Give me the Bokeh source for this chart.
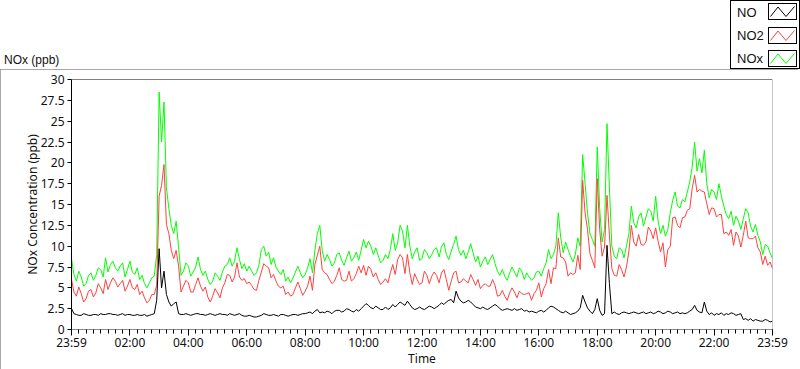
from bokeh.plotting import figure
from bokeh.layouts import column
from bokeh.models import Range1d, FixedTicker, Span, Div
from bokeh.embed import file_html
from bokeh.resources import INLINE

# ---------------- data: readings every 5 minutes, hours since 23:59 ----------------
# "_on" = values on the 10-minute marks, "_off" = the readings 5 minutes later
minutes = list(range(0, 24 * 60 + 1, 5))
hours = [m / 60 for m in minutes]

nox_on = [8.5, 5.8, 6.3, 5.5, 6.8, 6.5, 7.2, 8.6, 7.8, 7.4,
          7.6, 6.3, 8.2, 6.6, 6.0, 5.5, 5.6, 6.4, 28.5, 27.3,
          14.5, 11.5, 9.8, 7.0, 7.6, 6.9, 8.7, 6.5, 6.0, 5.8,
          6.4, 6.9, 7.8, 7.6, 9.8, 7.3, 7.0, 7.0, 6.8, 9.6,
          8.8, 7.8, 7.5, 6.6, 5.8, 5.6, 6.9, 6.8, 6.6, 8.5,
          9.5, 12.5, 8.2, 8.4, 8.0, 9.2, 7.7, 9.4, 8.6, 8.3,
          10.8, 10.6, 9.0, 8.9, 8.3, 8.5, 11.5, 10.4, 11.8, 12.5,
          8.5, 9.8, 8.5, 9.2, 9.0, 9.8, 9.9, 9.0, 9.4, 11.2,
          8.9, 8.5, 10.3, 8.1, 7.5, 8.7, 8.4, 7.9, 6.5, 6.4,
          6.8, 6.9, 7.4, 6.0, 6.3, 6.2, 7.0, 7.3, 9.6, 9.0,
          14.0, 9.2, 9.6, 8.1, 11.0, 21.0, 14.0, 10.8, 21.9, 10.5,
          24.7, 10.0, 8.5, 9.6, 10.0, 14.8, 12.2, 14.0, 13.5, 14.2,
          16.0, 11.5, 11.2, 14.0, 16.5, 14.6, 15.3, 17.7, 22.5, 20.5,
          21.5, 15.8, 16.5, 17.5, 14.8, 13.3, 12.5, 13.0, 13.3, 14.0,
          11.7, 11.3, 9.0, 10.0, 8.5]
nox_off = [6.6, 7.0, 5.2, 6.5, 5.9, 7.4, 6.3, 6.9, 8.2, 7.0,
           8.0, 7.2, 6.9, 7.4, 6.5, 5.0, 6.2, 9.0, 22.5, 17.0,
           12.5, 13.0, 6.5, 8.0, 6.4, 7.5, 7.2, 7.0, 5.4, 6.8,
           5.9, 7.6, 8.6, 8.2, 8.4, 7.9, 7.6, 6.5, 7.7, 10.0,
           9.3, 8.6, 7.0, 7.2, 6.3, 6.2, 7.6, 6.2, 7.4, 6.8,
           11.5, 9.5, 9.0, 7.6, 9.0, 8.3, 8.6, 8.2, 9.3, 9.5,
           9.8, 10.0, 9.8, 8.0, 9.0, 9.6, 9.5, 12.5, 9.8, 10.0,
           9.3, 8.3, 9.6, 8.5, 9.6, 8.7, 10.4, 8.4, 10.2, 9.6,
           9.5, 9.3, 9.2, 8.8, 8.2, 7.8, 9.0, 7.0, 7.2, 5.9,
           7.5, 6.3, 7.0, 6.8, 5.9, 6.9, 6.4, 8.0, 8.5, 10.0,
           11.0, 10.5, 8.8, 9.0, 10.0, 17.5, 11.5, 10.0, 14.5, 12.0,
           17.0, 8.8, 9.8, 8.6, 11.5, 12.8, 13.5, 12.4, 14.5, 13.0,
           13.0, 12.5, 12.0, 15.5, 14.8, 15.6, 16.5, 19.5, 19.0, 18.8,
           17.5, 16.8, 15.6, 16.0, 13.8, 14.2, 13.6, 12.0, 14.5, 12.4,
           12.6, 10.5, 10.2, 9.2]

no2_on = [6.0, 4.0, 4.3, 3.7, 4.8, 4.4, 5.0, 6.0, 5.6, 5.8,
          5.5, 4.6, 6.0, 4.8, 4.2, 3.8, 3.5, 4.2, 16.0, 19.8,
          11.5, 8.5, 7.6, 5.2, 5.6, 4.5, 6.2, 4.6, 3.9, 4.0,
          4.4, 5.0, 6.6, 5.7, 8.0, 5.9, 5.5, 5.3, 4.7, 6.9,
          7.6, 6.2, 5.8, 5.0, 4.2, 4.0, 5.0, 4.9, 4.6, 6.4,
          7.8, 10.0, 6.8, 6.0, 5.8, 7.4, 5.8, 7.0, 6.1, 7.6,
          7.7, 7.6, 6.3, 6.0, 5.7, 5.6, 7.8, 8.4, 8.6, 9.0,
          5.4, 6.0, 5.6, 6.5, 6.4, 6.5, 6.8, 6.0, 5.8, 7.0,
          5.7, 5.8, 6.6, 5.3, 4.9, 5.5, 5.2, 5.3, 4.1, 4.0,
          4.4, 4.5, 4.6, 4.2, 4.4, 4.3, 5.6, 4.9, 7.2, 7.4,
          11.0, 8.6, 6.4, 6.6, 8.9, 17.9, 12.0, 8.3, 18.1, 8.8,
          16.1, 7.3, 6.4, 7.2, 7.5, 12.5, 10.0, 10.2, 10.5, 11.8,
          12.2, 9.3, 7.5, 10.0, 13.5, 12.2, 13.5, 14.5, 18.5, 16.8,
          16.5, 13.8, 14.5, 13.8, 11.5, 11.3, 10.1, 11.2, 11.3, 11.0,
          10.9, 9.8, 7.8, 7.7, 7.3]
no2_off = [4.5, 5.1, 3.3, 4.6, 3.9, 5.5, 4.3, 4.8, 6.2, 5.1,
           5.9, 5.2, 5.0, 5.4, 4.6, 3.2, 4.2, 5.3, 17.3, 12.6,
           9.5, 9.5, 4.5, 5.9, 4.5, 5.4, 5.2, 5.1, 3.3, 4.9,
           3.8, 5.6, 6.5, 6.3, 6.3, 6.1, 5.7, 4.8, 5.9, 7.9,
           7.4, 6.6, 5.2, 5.2, 4.5, 4.2, 5.7, 4.1, 5.2, 4.7,
           8.9, 7.2, 6.6, 5.5, 6.5, 6.0, 5.9, 5.8, 6.7, 6.8,
           6.5, 7.2, 6.8, 5.4, 6.1, 6.8, 6.6, 9.0, 6.7, 6.8,
           6.7, 5.4, 7.0, 5.5, 6.9, 5.6, 7.2, 4.7, 6.8, 5.6,
           6.1, 5.6, 6.0, 6.0, 5.3, 5.2, 6.0, 4.0, 4.7, 3.5,
           5.0, 3.8, 4.3, 4.3, 3.5, 4.7, 3.9, 5.5, 5.5, 7.3,
           8.7, 8.1, 6.8, 6.8, 7.2, 14.0, 9.1, 7.4, 12.0, 9.9,
           11.3, 6.5, 7.8, 6.3, 9.4, 10.5, 11.4, 10.1, 12.3, 10.9,
           10.6, 10.4, 9.6, 13.4, 12.5, 13.4, 14.3, 16.9, 16.5, 16.6,
           15.1, 14.6, 13.5, 13.8, 11.7, 12.0, 11.7, 9.9, 13.0, 10.9,
           11.2, 9.3, 8.8, 8.1]

no_on = [2.5, 1.8, 1.7, 1.8, 1.7, 1.8, 1.9, 1.8, 1.9, 1.8,
         1.8, 1.7, 1.8, 1.7, 1.7, 1.8, 1.7, 1.9, 9.7, 7.0,
         3.3, 3.1, 1.9, 1.8, 1.8, 1.8, 1.9, 1.8, 1.8, 1.8,
         1.8, 1.8, 1.7, 1.8, 1.8, 1.7, 1.6, 1.6, 1.5, 1.7,
         1.8, 1.7, 1.7, 1.8, 1.7, 1.7, 1.8, 1.8, 1.9, 2.1,
         2.2, 2.0, 2.0, 2.1, 2.2, 2.3, 2.2, 2.4, 2.1, 2.2,
         2.8, 2.9, 2.5, 2.6, 2.4, 2.4, 3.0, 3.0, 3.1, 3.4,
         2.6, 2.5, 2.5, 2.6, 2.7, 2.7, 3.2, 3.3, 3.6, 4.6,
         3.4, 3.3, 3.3, 2.7, 2.5, 2.5, 2.6, 3.0, 2.5, 2.4,
         2.4, 2.5, 2.4, 2.2, 2.1, 2.1, 2.2, 2.1, 2.6, 2.7,
         2.3, 2.0, 2.0, 1.9, 2.2, 4.1, 2.6, 1.9, 3.7, 1.7,
         10.1, 1.9, 1.9, 2.0, 2.0, 2.0, 2.0, 2.0, 1.9, 2.1,
         2.0, 2.1, 2.0, 2.1, 2.0, 1.9, 1.9, 2.2, 2.9, 2.1,
         3.3, 1.8, 1.7, 1.8, 1.7, 1.8, 1.9, 1.8, 1.2, 1.1,
         1.0, 1.1, 1.0, 1.1, 1.0]
no_off = [1.9, 1.7, 1.9, 1.7, 1.8, 1.7, 1.8, 1.9, 1.8, 1.7,
          1.9, 1.8, 1.7, 1.8, 1.7, 1.6, 1.8, 3.5, 5.0, 4.2,
          2.8, 3.3, 1.8, 1.9, 1.7, 1.9, 1.8, 1.7, 1.9, 1.7,
          1.9, 1.8, 1.9, 1.7, 1.9, 1.6, 1.7, 1.5, 1.6, 1.9,
          1.7, 1.8, 1.6, 1.8, 1.6, 1.8, 1.7, 1.9, 2.0, 1.9,
          2.4, 2.1, 2.2, 1.9, 2.3, 2.1, 2.5, 2.2, 2.4, 2.5,
          3.1, 2.6, 2.8, 2.4, 2.7, 2.6, 2.7, 3.3, 2.9, 3.0,
          2.4, 2.7, 2.4, 2.8, 2.5, 2.9, 3.0, 3.5, 3.2, 3.8,
          3.2, 3.5, 3.0, 2.6, 2.7, 2.4, 2.8, 2.8, 2.3, 2.5,
          2.3, 2.3, 2.5, 2.3, 2.2, 2.0, 2.3, 2.3, 2.8, 2.5,
          2.1, 2.2, 1.8, 2.0, 2.6, 3.3, 2.2, 2.4, 2.3, 1.9,
          5.5, 2.1, 1.8, 2.1, 1.9, 2.1, 1.9, 2.1, 2.0, 1.9,
          2.2, 1.9, 2.2, 1.9, 2.1, 2.0, 2.0, 2.4, 2.3, 2.0,
          2.2, 2.0, 1.9, 2.0, 1.9, 2.0, 1.7, 1.9, 1.3, 1.3,
          1.2, 1.0, 1.2, 0.9]


def weave(on, off):
    out = []
    for a, b in zip(on, off):
        out += [a, b]
    out.append(on[-1])
    return out


nox = weave(nox_on, nox_off)
no2 = weave(no2_on, no2_off)
no = weave(no_on, no_off)

x_ticks = [0, 2, 4, 6, 8, 10, 12, 14, 16, 18, 20, 22, 24]
x_tick_labels = ["23:59", "02:00", "04:00", "06:00", "08:00", "10:00", "12:00",
                 "14:00", "16:00", "18:00", "20:00", "22:00", "23:59"]
x_minor_ticks = [q / 4 for q in range(0, 97)]
y_ticks = [0, 2.5, 5, 7.5, 10, 12.5, 15, 17.5, 20, 22.5, 25, 27.5, 30]
y_tick_labels = ["0", "2.5", "5", "7.5", "10", "12.5", "15", "17.5", "20",
                 "22.5", "25", "27.5", "30"]

series_names = ["NO", "NO2", "NOx"]
series_colors = ["#000000", "#ff4040", "#00ff00"]
panel_title = "NOx (ppb)"

FONT = "Noto Sans"
TXT = "#111111"

# ---------------- top strip: panel title + legend (inline SVG) ----------------
TW, TH = 800, 69
svg = [f'<svg xmlns="http://www.w3.org/2000/svg" width="{TW}" height="{TH}" '
       f'style="display:block" font-family="{FONT}">']
svg.append(f'<text x="4" y="60" font-size="12" fill="{TXT}" '
           f'dominant-baseline="central">{panel_title}</text>')
svg.append('<rect x="730.5" y="0.5" width="69" height="68" fill="#ffffff" '
           'stroke="#000000" stroke-width="1"/>')
text_y = [12, 35, 58]
box_top = [3.5, 27.5, 50.5]
for name, col, ty, bt in zip(series_names, series_colors, text_y, box_top):
    svg.append(f'<text x="737" y="{ty}" font-size="13" fill="{TXT}" '
               f'dominant-baseline="central">{name}</text>')
    bl = 768.5
    svg.append(f'<rect x="{bl}" y="{bt}" width="28" height="16" fill="#ffffff" '
               f'stroke="#000000" stroke-width="1"/>')
    pts = [(bl + 2, bt + 13), (bl + 9.5, bt + 3.5), (bl + 17.5, bt + 13), (bl + 26, bt + 3)]
    pts_s = " ".join(f"{a},{b}" for a, b in pts)
    svg.append(f'<polyline points="{pts_s}" fill="none" stroke="{col}" stroke-width="1"/>')
svg.append('</svg>')
top = Div(text="".join(svg), width=TW, height=TH, margin=(0, 0, 0, 0))

# ---------------- main chart ----------------
W, H = 798, 300
FL, FR, FT, FB = 71, 772, 10, 260  # plot frame edges (px)

p = figure(width=W, height=H, output_backend="svg", toolbar_location=None,
           x_range=Range1d(0, 24), y_range=Range1d(0, 30),
           min_border_left=FL, min_border_right=W - FR,
           min_border_top=FT, min_border_bottom=H - FB)
p.grid.visible = False
p.background_fill_color = "white"
p.border_fill_color = "white"
p.outline_line_color = None
p.styles = {"outline": "1px solid #8c8c8c", "outline-offset": "-1px"}

p.line(hours, nox, line_color=series_colors[2], line_width=1)
p.line(hours, no2, line_color=series_colors[1], line_width=1)
p.line(hours, no, line_color=series_colors[0], line_width=1)

p.add_layout(Span(location=30, dimension="width", line_color="#000000", line_width=1))
p.add_layout(Span(location=24, dimension="height", line_color="#8c8c8c", line_width=1))

xa = p.xaxis[0]
xa.ticker = FixedTicker(ticks=x_ticks, minor_ticks=x_minor_ticks)
xa.major_label_overrides = {t: l for t, l in zip(x_ticks, x_tick_labels)}
xa.axis_line_color = "#8c8c8c"
xa.major_tick_line_color = "#000000"
xa.minor_tick_line_color = "#000000"
xa.major_tick_in = 0
xa.major_tick_out = 6
xa.minor_tick_in = 0
xa.minor_tick_out = 4
xa.major_label_standoff = -2
xa.major_label_text_font = FONT
xa.major_label_text_font_size = "12px"
xa.major_label_text_color = TXT
xa.axis_label = "Time"
xa.axis_label_standoff = -4
xa.axis_label_text_font = FONT
xa.axis_label_text_font_size = "12px"
xa.axis_label_text_font_style = "normal"
xa.axis_label_text_color = TXT

ya = p.yaxis[0]
ya.ticker = FixedTicker(ticks=y_ticks, minor_ticks=[])
ya.major_label_overrides = {t: l for t, l in zip(y_ticks, y_tick_labels)}
ya.axis_line_color = "#000000"
ya.major_tick_line_color = "#000000"
ya.major_tick_in = 0
ya.major_tick_out = 4
ya.minor_tick_out = 0
ya.major_label_standoff = 3
ya.major_label_text_font = FONT
ya.major_label_text_font_size = "12px"
ya.major_label_text_color = TXT
ya.axis_label = "NOx Concentration (ppb)"
ya.axis_label_standoff = -3
ya.axis_label_text_font = FONT
ya.axis_label_text_font_size = "12px"
ya.axis_label_text_font_style = "normal"
ya.axis_label_text_color = TXT

layout = column(top, p, spacing=0)
open("out.html", "w").write(file_html(layout, INLINE))
